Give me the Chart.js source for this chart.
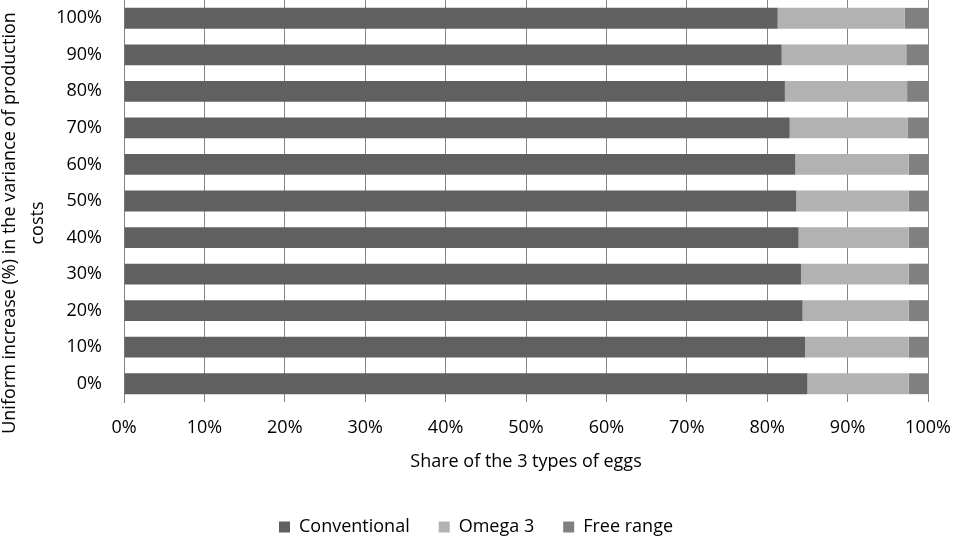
<!DOCTYPE html>
<html>
<head>
<meta charset="utf-8">
<script src="https://cdn.jsdelivr.net/npm/chart.js@4/dist/chart.umd.min.js"></script>
<style>
  html, body { margin: 0; padding: 0; background: #fff; }
  #wrap { width: 953px; height: 539px; position: relative; }
</style>
</head>
<body>
<div id="wrap"><canvas id="chart"></canvas></div>
<script>
// uniform increase in the variance of production costs (bottom to top)
const categories = ['0%', '10%', '20%', '30%', '40%', '50%', '60%', '70%', '80%', '90%', '100%'];

// share of each type of egg, in %
const conventional = [85.0, 84.7, 84.4, 84.2, 83.9, 83.6, 83.5, 82.8, 82.2, 81.8, 81.3];
const omega3 = [12.6, 12.9, 13.2, 13.4, 13.7, 14.0, 14.1, 14.7, 15.2, 15.5, 15.8];
const freeRange = [2.4, 2.4, 2.4, 2.4, 2.4, 2.4, 2.4, 2.5, 2.6, 2.7, 2.9];

const xTicks = [0, 10, 20, 30, 40, 50, 60, 70, 80, 90, 100];

const yTitle = ['Uniform increase (%) in the variance of production', 'costs'];
const xTitle = 'Share of the 3 types of eggs';

const FONT = '"Open Sans", "Liberation Sans", sans-serif';
Chart.defaults.font.family = FONT;
Chart.defaults.font.size = 18;
Chart.defaults.color = '#000';

// draws the two-line y axis title like Excel does (centred on the chart, not the axis)
const yTitlePlugin = {
  id: 'yTitle',
  afterLayout(chart) {
    // Excel's legend sits a little right of the canvas centre
    chart.legend.left += 12;
    chart.legend.right += 12;
  },
  afterDraw(chart) {
    const ctx = chart.ctx;
    ctx.save();
    ctx.font = '18px ' + FONT;
    ctx.fillStyle = '#000';
    ctx.textAlign = 'center';
    ctx.textBaseline = 'middle';
    yTitle.forEach((line, i) => {
      ctx.save();
      ctx.translate(10 + i * 28, 223);
      ctx.rotate(-Math.PI / 2);
      ctx.fillText(line, 0, 0);
      ctx.restore();
    });
    ctx.restore();
  }
};

const ctx = document.getElementById('chart').getContext('2d');
new Chart(ctx, {
  type: 'bar',
  data: {
    labels: categories,
    datasets: [
      { label: 'Conventional', data: conventional, backgroundColor: '#606060' },
      { label: 'Omega 3', data: omega3, backgroundColor: '#b2b2b2' },
      { label: 'Free range', data: freeRange, backgroundColor: '#808080' }
    ]
  },
  options: {
    indexAxis: 'y',
    responsive: true,
    maintainAspectRatio: false,
    animation: false,
    barPercentage: 0.57,
    categoryPercentage: 1,
    layout: { padding: { left: 0, right: 25, top: 0, bottom: -7 } },
    plugins: {
      legend: {
        position: 'bottom',
        labels: { boxWidth: 11, boxHeight: 11, padding: 29, color: '#000' }
      },
      tooltip: { enabled: false }
    },
    scales: {
      x: {
        stacked: true,
        min: 0,
        max: 100,
        afterBuildTicks: (scale) => { scale.ticks = xTicks.map(v => ({ value: v })); },
        ticks: { callback: (v) => v + '%', padding: 15, maxRotation: 0 },
        grid: { color: '#868686', lineWidth: 1, drawTicks: false },
        border: { display: false },
        title: { display: true, text: xTitle, padding: { top: 0, bottom: 16 } },
        afterFit: (scale) => {
          scale.height = 87;
          scale.paddingLeft = 0;
          scale.paddingRight = 0;
        }
      },
      y: {
        stacked: true,
        reverse: true,
        ticks: { padding: 22 },
        grid: { display: false, drawTicks: false },
        border: { display: true, color: '#868686' },
        afterFit: (scale) => {
          scale.width = 124;
          scale.paddingTop = 0;
          scale.paddingBottom = 0;
        }
      }
    }
  },
  plugins: [yTitlePlugin]
});
</script>
</body>
</html>
